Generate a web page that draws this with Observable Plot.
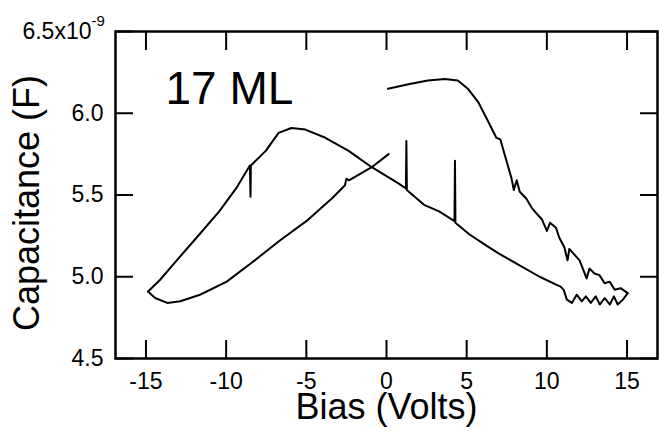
<!DOCTYPE html>
<html>
<head>
<meta charset="utf-8">
<script src="https://cdn.jsdelivr.net/npm/d3@7"></script>
<script src="https://cdn.jsdelivr.net/npm/@observablehq/plot@0.6"></script>
<style>
  html, body { margin: 0; padding: 0; background: white; }
  svg { display: block; }
</style>
</head>
<body>
<div id="chart"></div>
<script>
// Tick values and labels
const xTicks = [-15, -10, -5, 0, 5, 10, 15];
const yTicks = [4.5, 5.0, 5.5, 6.0, 6.5];
const yLabelTicks = [4.5, 5.0, 5.5, 6.0];
const topLabelMain = "6.5x10";
const topLabelExp = "-9";
const sampleLabel = "17 ML";
const xTitle = "Bias (Volts)";
const yTitle = "Capacitance (F)";

// Sweep 1: from +15 V down to -15 V (lower-right line, peak near -6 V)
const sweep1V = [15.04, 14.74, 14.42, 14.18, 13.93, 13.61, 13.30, 13.05, 12.74, 12.43, 12.18, 11.86, 11.56, 11.25, 11.05, 10.86, 10.61,
  9.55, 8.30, 7.04, 6.23, 5.16, 4.30, 4.27, 4.24, 3.28, 2.34, 1.27, 1.24, 1.21, 0.77, -0.92, -2.36, -3.81, -5.06, -5.93, -6.73,
  -7.53, -8.46, -8.48, -8.52, -9.38, -10.43, -11.66, -13.08, -14.13, -14.87];
const sweep1C = [4.90, 4.86, 4.83, 4.88, 4.83, 4.87, 4.83, 4.88, 4.84, 4.88, 4.85, 4.89, 4.84, 4.86, 4.92, 4.94, 4.95,
  5.00, 5.07, 5.14, 5.19, 5.26, 5.33, 5.71, 5.34, 5.40, 5.44, 5.53, 5.83, 5.54, 5.57, 5.67, 5.77, 5.85, 5.90, 5.91, 5.88,
  5.77, 5.68, 5.49, 5.68, 5.54, 5.40, 5.26, 5.10, 4.98, 4.91];

// Sweep 2: from -15 V back up to 0 V (lower-left branch)
const sweep2V = [-14.87, -14.43, -13.67, -12.86, -11.63, -9.96, -8.35, -6.67, -5.00, -3.39, -2.59, -2.50, -2.34, -0.92, 0.13];
const sweep2C = [4.91, 4.87, 4.84, 4.85, 4.89, 4.97, 5.09, 5.22, 5.34, 5.48, 5.56, 5.60, 5.59, 5.67, 5.75];

// Sweep 3: from 0 V up to +15 V (upper-right branch)
const sweep3V = [0.09, 1.52, 2.58, 3.64, 4.45, 5.07, 5.71, 6.34, 6.85, 7.10, 7.42, 7.80, 7.94, 8.12, 8.31, 8.70, 9.07, 9.33, 9.70,
  10.00, 10.20, 10.57, 10.77, 11.09, 11.29, 11.40, 12.04, 12.48, 12.66, 12.97, 13.28, 13.60, 13.92, 14.23, 14.60, 15.04];
const sweep3C = [6.15, 6.18, 6.20, 6.21, 6.20, 6.15, 6.07, 5.95, 5.85, 5.84, 5.73, 5.60, 5.53, 5.59, 5.52, 5.48, 5.42, 5.39, 5.35,
  5.28, 5.33, 5.30, 5.24, 5.18, 5.10, 5.17, 5.10, 4.99, 5.05, 5.02, 5.01, 4.96, 4.97, 4.92, 4.93, 4.90];

const toRows = (V, C) => V.map((v, i) => ({v, c: C[i]}));
const sweep1 = toRows(sweep1V, sweep1C);
const sweep2 = toRows(sweep2V, sweep2C);
const sweep3 = toRows(sweep3V, sweep3C);

const font = "'Liberation Sans', Arial, Helvetica, sans-serif";

const chart = Plot.plot({
  width: 659,
  height: 433,
  marginLeft: 115,
  marginRight: 2,
  marginTop: 31,
  marginBottom: 75,
  x: {domain: [-16.9, 16.9]},
  y: {domain: [4.5, 6.5]},
  style: {fontFamily: font, color: "black", background: "white"},
  marks: [
    Plot.frame({stroke: "black", strokeWidth: 2.5}),
    // inward ticks
    Plot.axisX(xTicks, {anchor: "bottom", tickSize: -18, strokeWidth: 2, tickFormat: () => "", label: null}),
    Plot.axisX(xTicks, {anchor: "top", tickSize: -18, strokeWidth: 2, tickFormat: () => "", label: null}),
    Plot.axisY(yTicks, {anchor: "left", tickSize: -18, strokeWidth: 2, tickFormat: () => "", label: null}),
    Plot.axisY(yTicks, {anchor: "right", tickSize: -18, strokeWidth: 2, tickFormat: () => "", label: null}),
    // tick labels
    Plot.axisX(xTicks, {anchor: "bottom", tickSize: 0, tickPadding: 14, fontSize: 23, tickFormat: d => String(d), label: null}),
    Plot.axisY(yLabelTicks, {anchor: "left", tickSize: 0, tickPadding: 12, fontSize: 23, tickFormat: d => d.toFixed(1), label: null}),
    Plot.text([6.5], {y: d => d, frameAnchor: "left", text: () => topLabelMain, textAnchor: "end", dx: -24, fontSize: 23}),
    Plot.text([6.5], {y: d => d, frameAnchor: "left", text: () => topLabelExp, textAnchor: "start", dx: -24, dy: -10, fontSize: 15}),
    // titles
    Plot.text([xTitle], {frameAnchor: "bottom", dy: 60, fontSize: 36}),
    Plot.text([yTitle], {frameAnchor: "left", textAnchor: "middle", rotate: -90, dx: -88, dy: 8, fontSize: 36}),
    Plot.text([sampleLabel], {frameAnchor: "top-left", textAnchor: "start", lineAnchor: "middle", dx: 50, dy: 58, fontSize: 46}),
    // data
    Plot.line(sweep1, {x: "v", y: "c", stroke: "black", strokeWidth: 2}),
    Plot.line(sweep2, {x: "v", y: "c", stroke: "black", strokeWidth: 2}),
    Plot.line(sweep3, {x: "v", y: "c", stroke: "black", strokeWidth: 2})
  ]
});
document.getElementById("chart").append(chart);
</script>
</body>
</html>
